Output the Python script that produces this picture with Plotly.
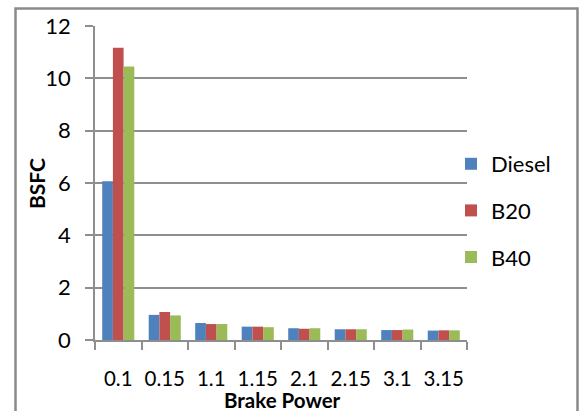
import plotly.graph_objects as go

# Brake specific fuel consumption for each fuel blend over brake power settings
brake_power = ["0.1", "0.15", "1.1", "1.15", "2.1", "2.15", "3.1", "3.15"]
diesel = [6.07, 0.96, 0.65, 0.51, 0.45, 0.41, 0.38, 0.36]
b20 = [11.17, 1.07, 0.61, 0.51, 0.43, 0.41, 0.38, 0.37]
b40 = [10.45, 0.94, 0.61, 0.49, 0.45, 0.41, 0.40, 0.37]

series = [("Diesel", diesel, "#4F81BD"), ("B20", b20, "#C0504D"), ("B40", b40, "#9BBB59")]

W, H = 584, 411
FONT = "Lato, 'Open Sans', sans-serif"

def px_x(x):
    return x / W

def px_y(y):
    return (H - y) / H

fig = go.Figure()
for i, (name, vals, color) in enumerate(series):
    fig.add_trace(go.Bar(
        x=brake_power, y=vals, name=name,
        marker=dict(color=color, line=dict(width=0)),
        legendgroup=name,
    ))

grid = "#8e8e8e"
fig.update_layout(
    width=W, height=H,
    margin=dict(l=0, r=0, t=0, b=0),
    paper_bgcolor="white", plot_bgcolor="white",
    font=dict(family=FONT, color="#000000"),
    barmode="group", bargap=0.31, bargroupgap=0,
    showlegend=True,
    legend=dict(
        x=px_x(451), y=px_y(143), xanchor="left", yanchor="top",
        font=dict(size=22, family=FONT),
        tracegroupgap=15, traceorder="grouped",
        bgcolor="rgba(0,0,0,0)",
        itemwidth=30,
    ),
    xaxis=dict(
        domain=[px_x(95), px_x(467)],
        showline=True, linecolor=grid, linewidth=1.5,
        ticks="outside", tickson="boundaries", ticklen=8, tickcolor=grid, tickwidth=1.5,
        tickfont=dict(size=20.5),
        tickangle=0,
        ticklabelstandoff=20,
        showgrid=False,
        automargin=False,
    ),
    yaxis=dict(
        domain=[px_y(340), px_y(26)],
        range=[0, 12], dtick=2,
        showline=True, linecolor=grid, linewidth=1.5,
        ticks="outside", ticklen=8, tickcolor=grid, tickwidth=1.5,
        showgrid=True, gridcolor=grid, gridwidth=1.5,
        zeroline=False,
        tickfont=dict(size=22),
        ticklabelstandoff=10,
        automargin=False,
    ),
    annotations=[
        dict(
            text="<b>BSFC</b>", textangle=-90, showarrow=False,
            xref="paper", yref="paper", x=px_x(36), y=px_y(184),
            xanchor="center", yanchor="middle",
            font=dict(size=21, family=FONT),
        ),
        dict(
            text="<b>Brake Power</b>", showarrow=False,
            xref="paper", yref="paper", x=px_x(282), y=px_y(400),
            xanchor="center", yanchor="middle",
            font=dict(size=20.5, family=FONT),
        ),
    ],
    shapes=[dict(
        type="rect", xref="paper", yref="paper",
        x0=px_x(15.5), x1=px_x(577.5), y0=-0.2, y1=px_y(8.5),
        line=dict(color="#8a8a8a", width=2.5), layer="below",
    )],
)

fig.write_html("out.html")
